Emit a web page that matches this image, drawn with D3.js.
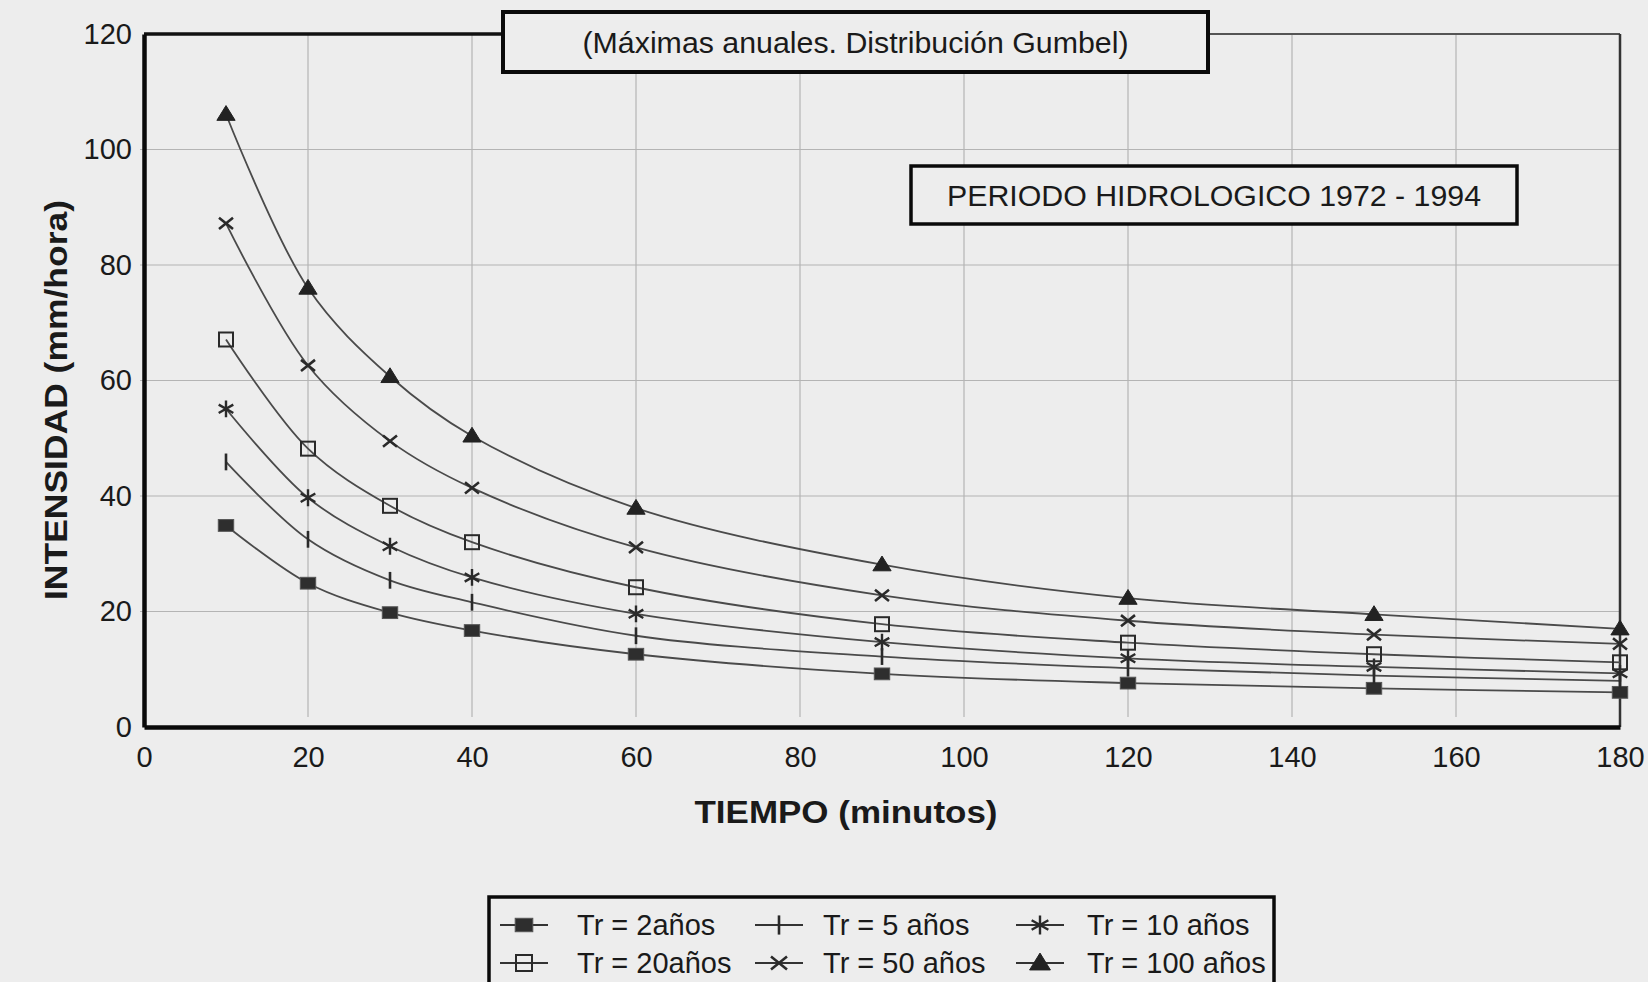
<!DOCTYPE html>
<html>
<head>
<meta charset="utf-8">
<script src="https://cdn.jsdelivr.net/npm/d3@7"></script>
<style>
  html, body { margin: 0; padding: 0; background: #ededed; }
  svg { display: block; }
  text { font-family: "Liberation Sans", Arial, sans-serif; fill: #1a1a1a; }
</style>
</head>
<body>
<svg id="chart" width="1648" height="982"></svg>
<script>
// Duration (minutes) of each storm interval
const minutes = [10, 20, 30, 40, 60, 90, 120, 150, 180];

// Rainfall intensity (mm/hora) for each return period
const tr2   = [34.9, 24.9, 19.8, 16.7, 12.6, 9.2, 7.6, 6.7, 6.0];
const tr5   = [45.9, 32.5, 25.4, 21.6, 15.8, 12.2, 10.2, 8.9, 8.0];
const tr10  = [55.1, 39.7, 31.3, 25.9, 19.6, 14.7, 11.9, 10.4, 9.3];
const tr20  = [67.1, 48.2, 38.3, 32.0, 24.2, 17.8, 14.6, 12.6, 11.2];
const tr50  = [87.2, 62.6, 49.5, 41.4, 31.1, 22.8, 18.4, 16.0, 14.4];
const tr100 = [106.1, 76.0, 60.7, 50.4, 37.9, 28.1, 22.3, 19.5, 17.0];

const seriesNames = ["Tr = 2años", "Tr = 5 años", "Tr = 10 años", "Tr = 20años", "Tr = 50 años", "Tr = 100 años"];
const seriesMarkers = ["filledSquare", "tick", "asterisk", "openSquare", "cross", "triangle"];
const seriesValues = [tr2, tr5, tr10, tr20, tr50, tr100];

const xTicks = [0, 20, 40, 60, 80, 100, 120, 140, 160, 180];
const yTicks = [0, 20, 40, 60, 80, 100, 120];

const titleText = "(Máximas anuales. Distribución Gumbel)";
const periodText = "PERIODO HIDROLOGICO 1972 - 1994";
const xTitle = "TIEMPO (minutos)";
const yTitle = "INTENSIDAD (mm/hora)";

const svg = d3.select("#chart");
const plot = { left: 144, right: 1620, top: 34, bottom: 727 };

const x = d3.scaleLinear().domain([0, 180]).range([plot.left, plot.right]);
const y = d3.scaleLinear().domain([0, 120]).range([plot.bottom, plot.top]);

// Grid
const grid = svg.append("g");
grid.selectAll("line.v").data(xTicks.slice(1, -1)).join("line")
  .attr("x1", d => x(d)).attr("x2", d => x(d))
  .attr("y1", plot.top).attr("y2", plot.bottom - 10)
  .attr("stroke", "#b4b4b4").attr("stroke-width", 1.2);
grid.selectAll("line.h").data(yTicks.slice(1, -1)).join("line")
  .attr("x1", plot.left - 4).attr("x2", plot.right)
  .attr("y1", d => y(d)).attr("y2", d => y(d))
  .attr("stroke", "#b4b4b4").attr("stroke-width", 1.2);

// Frame: light top/right edges, heavy left/bottom axes
svg.append("line").attr("x1", plot.left).attr("x2", plot.right)
  .attr("y1", plot.top).attr("y2", plot.top)
  .attr("stroke", "#555").attr("stroke-width", 2);
svg.append("line").attr("x1", plot.left).attr("x2", 560)
  .attr("y1", plot.top).attr("y2", plot.top)
  .attr("stroke", "#111").attr("stroke-width", 3.5);
svg.append("line").attr("x1", plot.right).attr("x2", plot.right)
  .attr("y1", plot.top).attr("y2", plot.bottom)
  .attr("stroke", "#333").attr("stroke-width", 2.5);

// Axes via d3-axis, restyled
const xAxis = svg.append("g").attr("transform", `translate(0,${plot.bottom})`)
  .call(d3.axisBottom(x).tickValues(xTicks).tickSize(0).tickPadding(14));
const yAxis = svg.append("g").attr("transform", `translate(${plot.left},0)`)
  .call(d3.axisLeft(y).tickValues(yTicks).tickSize(0).tickPadding(12));
[xAxis, yAxis].forEach(a => {
  a.select(".domain").attr("stroke", "#0a0a0a").attr("stroke-width", 4.5);
  a.selectAll("text").style("font-size", "29px").style("font-family", "'Liberation Sans', Arial, sans-serif")
    .attr("fill", "#2a2a2a");
});
xAxis.selectAll("text").attr("dy", "0.9em");

// Axis titles
svg.append("text").attr("x", 846).attr("y", 823).attr("text-anchor", "middle")
  .attr("textLength", 303).attr("lengthAdjust", "spacingAndGlyphs")
  .style("font-size", "32px").style("font-weight", "bold").text(xTitle);
svg.append("text").attr("transform", "translate(67,400) rotate(-90)")
  .attr("text-anchor", "middle").attr("textLength", 400).attr("lengthAdjust", "spacingAndGlyphs")
  .style("font-size", "32px").style("font-weight", "bold").text(yTitle);

// Marker shapes
function drawMarker(g, type, size) {
  const s = size;
  const stroke = "#2a2a2a";
  if (type === "filledSquare") {
    g.append("rect").attr("x", -s * 0.55).attr("y", -s * 0.42).attr("width", s * 1.1).attr("height", s * 0.84)
      .attr("fill", "#2e2e2e").attr("stroke", "#555").attr("stroke-width", 1);
  } else if (type === "tick") {
    g.append("line").attr("x1", 0).attr("x2", 0).attr("y1", -s * 0.6).attr("y2", s * 0.6)
      .attr("stroke", stroke).attr("stroke-width", 2.6);
  } else if (type === "asterisk") {
    const r = s * 0.6;
    g.append("path").attr("d",
      `M0,${-r}L0,${r}M${-r * 0.87},${-r * 0.5}L${r * 0.87},${r * 0.5}M${-r * 0.87},${r * 0.5}L${r * 0.87},${-r * 0.5}`)
      .attr("stroke", stroke).attr("stroke-width", 2.4).attr("fill", "none");
  } else if (type === "openSquare") {
    g.append("rect").attr("x", -s * 0.5).attr("y", -s * 0.5).attr("width", s).attr("height", s)
      .attr("fill", "none").attr("stroke", stroke).attr("stroke-width", 2);
  } else if (type === "cross") {
    const r = s * 0.5;
    g.append("path").attr("d", `M${-r},${-r * 0.8}L${r},${r * 0.8}M${-r},${r * 0.8}L${r},${-r * 0.8}`)
      .attr("stroke", stroke).attr("stroke-width", 2.6).attr("fill", "none");
  } else if (type === "triangle") {
    const r = s * 0.62;
    g.append("path").attr("d", `M0,${-r}L${r * 1.05},${r * 0.7}L${-r * 1.05},${r * 0.7}Z`)
      .attr("fill", "#222").attr("stroke", "#222").attr("stroke-width", 1);
  }
}

// Series curves and markers
const line = d3.line()
  .x((d, i) => x(minutes[i]))
  .y(d => y(d))
  .curve(d3.curveCatmullRom.alpha(0.5));

const seriesG = svg.append("g");
seriesValues.forEach((vals, si) => {
  seriesG.append("path").datum(vals).attr("d", line)
    .attr("fill", "none").attr("stroke", "#4a4a4a").attr("stroke-width", 1.8);
});
seriesValues.forEach((vals, si) => {
  vals.forEach((v, i) => {
    const g = seriesG.append("g").attr("transform", `translate(${x(minutes[i])},${y(v)})`);
    drawMarker(g, seriesMarkers[si], 14);
  });
});

// Title boxes
function labelBox(x0, y0, w, h, sw, txt, fs, len) {
  svg.append("rect").attr("x", x0).attr("y", y0).attr("width", w).attr("height", h)
    .attr("fill", "#ededed").attr("stroke", "#0a0a0a").attr("stroke-width", sw);
  svg.append("text").attr("x", x0 + w / 2).attr("y", y0 + h / 2).attr("dy", "0.36em")
    .attr("text-anchor", "middle").attr("textLength", len).attr("lengthAdjust", "spacingAndGlyphs")
    .style("font-size", fs + "px").text(txt);
}
labelBox(503, 12, 705, 60, 4, titleText, 30, 546);
labelBox(911, 166, 606, 58, 3.5, periodText, 30, 534);

// Legend
const legend = svg.append("g");
legend.append("rect").attr("x", 489).attr("y", 897).attr("width", 785).attr("height", 110)
  .attr("fill", "#ededed").attr("stroke", "#0a0a0a").attr("stroke-width", 3.5);
const colMarkerX = [524, 779, 1040];
const colTextX = [577, 823, 1087];
const rowY = [925, 963];
seriesNames.forEach((name, i) => {
  const col = i % 3, row = Math.floor(i / 3);
  const cx = colMarkerX[col], cy = rowY[row];
  legend.append("line").attr("x1", cx - 24).attr("x2", cx + 24).attr("y1", cy).attr("y2", cy)
    .attr("stroke", "#333").attr("stroke-width", 2);
  const g = legend.append("g").attr("transform", `translate(${cx},${cy})`);
  drawMarker(g, seriesMarkers[i], 16);
  legend.append("text").attr("x", colTextX[col]).attr("y", cy).attr("dy", "0.36em")
    .style("font-size", "29px").text(name);
});
</script>
</body>
</html>
